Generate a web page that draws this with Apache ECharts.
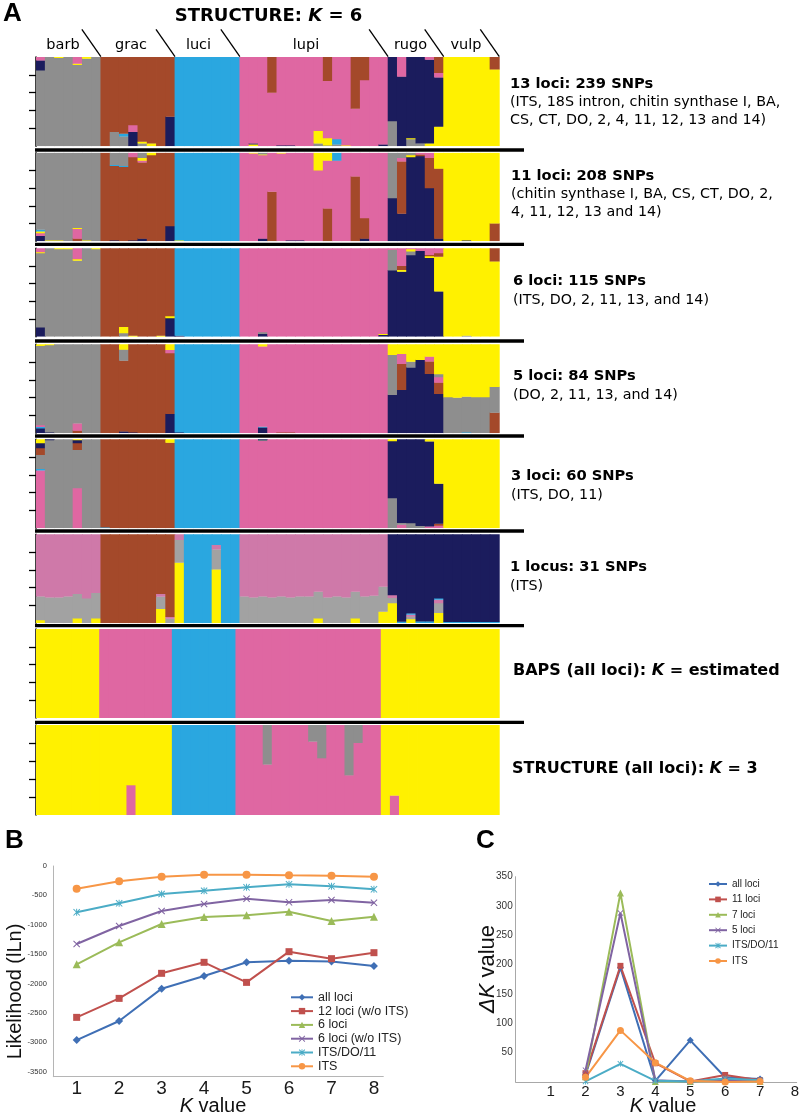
<!DOCTYPE html>
<html><head><meta charset="utf-8">
<script src="https://cdn.jsdelivr.net/npm/echarts@6/dist/echarts.min.js"></script>
<style>html,body{margin:0;padding:0;background:#fff}#c{width:800px;height:1117px}</style>
</head><body><div id="c"></div>
<script>
// ---------------- DATA ----------------
const groups = ['barb','grac','luci','lupi','rugo','vulp'];
const groupSizesK6 = [7,8,7,16,6,6];      // rows 1-6 (50 individuals)
const groupSizesAll = [7,8,7,16,6,7];     // rows 7-8 (51 individuals)

// cluster keys: G gray, R brown, B blue, P pink, N navy, Y yellow (stacking order bottom->top)
const order13 = ['G','B','Y','N','P','R'];
const row13 = [
[85,0,0,11,4,0],[100,0,0,0,0,0],[99,0,1,0,0,0],[100,0,0,0,0,0],[91,0,1.5,0,7.5,0],[98,0,2,0,0,0],[100,0,0,0,0,0],
[0,0,0,0,0,100],[16,0,0,0,0,84],[11,3,0,0,0,86],[0,0,0,16,7.5,76.5],[3,0,2,0,0,95],[0,0,3,0,0,97],[0,0,0,0,0,100],[0,0,0,33,0,67],
[0,100,0,0,0,0],[0,100,0,0,0,0],[0,100,0,0,0,0],[0,100,0,0,0,0],[0,100,0,0,0,0],[0,100,0,0,0,0],[0,100,0,0,0,0],
[0,0,0,0,100,0],[0,0,2,1,97,0],[0,0,0,0,100,0],[0,0,0,0,60,40],[0,0,0,1,99,0],[0,0,0,1,99,0],[0,0,0,0,100,0],[0,0,0,0,100,0],
[3,0,14,0,83,0],[1,0,8,0,64,27],[2,6,0,0,92,0],[0,0,1,0,99,0],[0,0,0,0,42,58],[0,0,0,0,74,26],[0,0,0,0,100,0],[0,0,0,2,98,0],
[28,0,0,72,0,0],[0,0,0,78,22,0],[8,0,1,91,0,0],[3,0,0,97,0,0],[0,0,3,94,3,0],[0,0,22,55,5,18],
[0,0,100,0,0,0],[0,0,100,0,0,0],[0,0,100,0,0,0],[0,0,100,0,0,0],[0,0,100,0,0,0],[0,0,86,0,0,14]
];
const order11 = ['N','R','P','Y','B','G'];
const row11 = [
[6,0,3,2,2,87],[0,0,0,1,0,99],[0,0,0,1,0,99],[0,0,0,0,0,100],[0,3,11,1,0,85],[0,0,0,1,0,99],[0,0,0,0,0,100],
[0,100,0,0,0,0],[1,84,0,0,1,14],[0,84,0,0,1,15],[1,94,5,0,0,0],[3,86,2,3,0,6],[0,97,0,3,0,0],[0,100,0,0,0,0],[17,83,0,0,0,0],
[0,0,0,1,99,0],[0,0,0,0,100,0],[0,0,0,0,100,0],[0,0,0,0,100,0],[0,0,0,0,100,0],[0,0,0,0,100,0],[0,0,0,0,100,0],
[0,0,100,0,0,0],[0,0,99,1,0,0],[3,0,94,1,0,2],[0,56,44,0,0,0],[0,0,99,1,0,0],[1,0,99,0,0,0],[1,0,99,0,0,0],[0,0,100,0,0,0],
[0,0,80,20,0,0],[0,37,54,9,0,0],[0,0,91,0,9,0],[0,0,100,0,0,0],[0,73,27,0,0,0],[3,23,74,0,0,0],[0,0,100,0,0,0],[0,0,100,0,0,0],
[48.5,0,0,0,0,51.5],[31,59,4,0,0,6],[95,0,0,2,0,3],[96,2,2,0,0,0],[60,34,6,0,0,0],[3,79,0,18,0,0],
[0,0,0,100,0,0],[0,0,0,100,0,0],[1,0,0,99,0,0],[0,0,0,100,0,0],[0,0,0,100,0,0],[0,20,0,80,0,0]
];
const order6 = ['N','G','Y','R','P','B'];
const row6 = [
[10.5,84,1,0,4.5,0],[0,100,0,0,0,0],[0,99,1,0,0,0],[0,99,1,0,0,0],[0,86,1.5,0,12.5,0],[0,100,0,0,0,0],[0,99,1,0,0,0],
[0,0,0,100,0,0],[0,0,0,100,0,0],[0,4,7,89,0,0],[0,0,1,99,0,0],[0,0,0,100,0,0],[0,0,0,100,0,0],[0,0,1,99,0,0],[21,0,2,77,0,0],
[1,0,0,0,0,99],[0,0,0,0,0,100],[0,0,0,0,0,100],[0,0,0,0,0,100],[0,0,0,0,0,100],[0,0,0,0,0,100],[0,0,0,0,0,100],
[0,0,0,0,100,0],[0,0,0,0,100,0],[3,2,0,0,95,0],[0,0,0,0,100,0],[0,0,0,0,100,0],[0,0,0,0,100,0],[0,0,0,0,100,0],[0,0,0,0,100,0],
[0,0,0,0,100,0],[0,0,0,0,100,0],[0,0,0,0,100,0],[0,0,0,0,100,0],[0,0,0,0,100,0],[0,0,0,0,100,0],[0,0,0,0,100,0],[2,0,1,0,97,0],
[75,23,0,0,2,0],[73.5,0,2,4.5,20,0],[92,4.5,2.5,0,1,0],[97,0,0,0,3,0],[89,0,2,1.5,7.5,0],[51,0,39.5,4,5.5,0],
[0,0,100,0,0,0],[0,0,100,0,0,0],[0,1,99,0,0,0],[0,0,100,0,0,0],[0,0,100,0,0,0],[0,0,85,15,0,0]
];
const order5 = ['N','R','B','P','G','Y'];
const row5 = [
[5.5,0,1.5,2,89,2],[1,0,0,0,98,1],[0,0,0,0,100,0],[0,0,0,0,100,0],[0,3,0,8,89,0],[0,0,0,0,100,0],[0,0,0,0,100,0],
[0,100,0,0,0,0],[0,100,0,0,0,0],[2,79.6,0,0,12.4,6],[1,99,0,0,0,0],[0,100,0,0,0,0],[0,100,0,0,0,0],[0,100,0,0,0,0],[21.7,68.2,0,3.7,0,6.4],
[1,0,99,0,0,0],[0,0,100,0,0,0],[0,0,100,0,0,0],[0,0,100,0,0,0],[0,0,100,0,0,0],[0,0,100,0,0,0],[0,0,100,0,0,0],
[0,0,0,100,0,0],[0,0,0,100,0,0],[6.4,0,1,90,0,2.6],[0,0,0,100,0,0],[0,1,0,99,0,0],[0,1,0,99,0,0],[0,0,0,100,0,0],[0,0,0,100,0,0],
[0,0,0,100,0,0],[0,0,0,100,0,0],[0,0,0,100,0,0],[0,0,0,100,0,0],[0,0,0,100,0,0],[0,0,0,100,0,0],[0,0,0,100,0,0],[0,0,0,100,0,0],
[43,0,0,0,45,12],[48.7,29.2,0,11.2,0,10.9],[74,0,0,0,6.4,19.6],[82.4,0,0,0,0,17.6],[66.7,13.9,0,5.5,0,13.9],[44.2,12.7,0,6,3.4,33.7],
[0,0,0,0,40.4,59.6],[0,0,0,0,40,60],[0,0,1,0,40,59],[0,0,0,0,40.4,59.6],[0,0,0,0,40.4,59.6],[0,23,0,0,29,48]
];
const order3 = ['P','B','G','R','N','Y'];
const row3 = [
[65,1.5,16,7.5,5.5,4.5],[0,0,99,0,1,0],[0,0,100,0,0,0],[0,0,100,0,0,0],[45,0,43,7.5,3.5,1],[0,0,100,0,0,0],[0,0,100,0,0,0],
[0,1,0,99,0,0],[0,0,0,100,0,0],[0,0,0,100,0,0],[0,0,0,100,0,0],[0,0,0,100,0,0],[0,0,0,100,0,0],[0,0,0,100,0,0],[0,0,0,96,0,4],
[0,100,0,0,0,0],[0,100,0,0,0,0],[0,100,0,0,0,0],[0,100,0,0,0,0],[0,100,0,0,0,0],[0,100,0,0,0,0],[0,100,0,0,0,0],
[100,0,0,0,0,0],[100,0,0,0,0,0],[98,0,1,0,1,0],[100,0,0,0,0,0],[100,0,0,0,0,0],[100,0,0,0,0,0],[100,0,0,0,0,0],[100,0,0,0,0,0],
[100,0,0,0,0,0],[100,0,0,0,0,0],[100,0,0,0,0,0],[100,0,0,0,0,0],[100,0,0,0,0,0],[100,0,0,0,0,0],[100,0,0,0,0,0],[100,0,0,0,0,0],
[0,0,33.7,0,64,2.3],[4,0,2,0,94,0],[0,0,5.6,0,94.4,0],[0,0,2.6,0,97.4,0],[2,0,0,0,95.4,2.6],[3,0,0,2,45,50],
[0,0,0,0,0,100],[0,0,0,0,0,100],[0,0,0,0,0,100],[0,0,0,0,0,100],[0,0,0,0,0,100],[0,0,0,0,0,100]
];
const order1 = ['Y','G','P','B','N','R'];
const row1 = [
[3.5,26.5,70,0,0,0],[0,29,71,0,0,0],[0,29,71,0,0,0],[0,30,70,0,0,0],[5.5,27.5,67,0,0,0],[0,28,72,0,0,0],[5.5,28.5,66,0,0,0],
[0,0,0,0,0,100],[0,0,0,0,0,100],[0,0,0,0,0,100],[0,0,0,0,0,100],[0,0,0,0,0,100],[0,0,0,0,0,100],[16,13.8,3,0,0,67.2],[0,5,2,0,0,93],
[68,25.5,6.5,0,0,0],[0,0,0,100,0,0],[0,0,0,100,0,0],[0,0,0,100,0,0],[60.5,22.5,5,12,0,0],[0,0,0,100,0,0],[0,0,0,100,0,0],
[0,30,70,0,0,0],[0,29,71,0,0,0],[0,30,70,0,0,0],[0,29,71,0,0,0],[0,30,70,0,0,0],[0,29,71,0,0,0],[0,30,70,0,0,0],[0,30,70,0,0,0],
[5.5,30,64.5,0,0,0],[0,29,71,0,0,0],[0,30,70,0,0,0],[0,29,71,0,0,0],[5.5,30,64.5,0,0,0],[0,30,70,0,0,0],[0,31,69,0,0,0],[13,28,59,0,0,0],
[22.5,6,3,0,68.5,0],[0,0,0,1.7,98.3,0],[4.5,3,2,1.5,89,0],[0,0,0,2,98,0],[0,0,0,2,98,0],[11.5,11,4,1.5,72,0],
[0,0,0,1.5,98.5,0],[0,0,0,1.5,98.5,0],[0,0,0,1.5,98.5,0],[0,0,0,1.5,98.5,0],[0,0,0,1.5,98.5,0],[0,0,0,1.5,98.5,0]
];
const orderBaps = ['Y','P','B'];
const rowBaps = [
[100,0,0],[100,0,0],[100,0,0],[100,0,0],[100,0,0],[100,0,0],[100,0,0],
[0,100,0],[0,100,0],[0,100,0],[0,100,0],[0,100,0],[0,100,0],[0,100,0],[0,100,0],
[0,0,100],[0,0,100],[0,0,100],[0,0,100],[0,0,100],[0,0,100],[0,0,100],
[0,100,0],[0,100,0],[0,100,0],[0,100,0],[0,100,0],[0,100,0],[0,100,0],[0,100,0],
[0,100,0],[0,100,0],[0,100,0],[0,100,0],[0,100,0],[0,100,0],[0,100,0],[0,100,0],
[100,0,0],[100,0,0],[100,0,0],[100,0,0],[100,0,0],[100,0,0],
[100,0,0],[100,0,0],[100,0,0],[100,0,0],[100,0,0],[100,0,0],[100,0,0]
];
const orderK3 = ['P','B','Y','G'];
const rowK3 = [
[0,0,100,0],[0,0,100,0],[0,0,100,0],[0,0,100,0],[0,0,100,0],[0,0,100,0],[0,0,100,0],
[0,0,100,0],[0,0,100,0],[0,0,100,0],[33,0,67,0],[0,0,100,0],[0,0,100,0],[0,0,100,0],[0,0,100,0],
[0,100,0,0],[0,100,0,0],[0,100,0,0],[0,100,0,0],[0,100,0,0],[0,100,0,0],[0,100,0,0],
[100,0,0,0],[100,0,0,0],[100,0,0,0],[56,0,0,44],[100,0,0,0],[100,0,0,0],[100,0,0,0],[100,0,0,0],
[81.5,0,0,18.5],[63,0,0,37],[100,0,0,0],[100,0,0,0],[44,0,0,56],[80,0,0,20],[100,0,0,0],[100,0,0,0],
[0,0,100,0],[21.5,0,78.5,0],[0,0,100,0],[0,0,100,0],[0,0,100,0],[0,0,100,0],
[0,0,100,0],[0,0,100,0],[0,0,100,0],[0,0,100,0],[0,0,100,0],[0,0,100,0],[0,0,100,0]
];
const rowTitles = [
  ['13 loci: 239 SNPs','(ITS, 18S intron, chitin synthase I, BA,','CS, CT, DO, 2, 4, 11, 12, 13 and 14)'],
  ['11 loci: 208 SNPs','(chitin synthase I, BA, CS, CT, DO, 2,','4, 11, 12, 13 and 14)'],
  ['6 loci: 115 SNPs','(ITS, DO, 2, 11, 13, and 14)'],
  ['5 loci: 84 SNPs','(DO, 2, 11, 13, and 14)'],
  ['3 loci: 60 SNPs','(ITS, DO, 11)'],
  ['1 locus: 31 SNPs','(ITS)']
];

// Panel B
const kValues = [1,2,3,4,5,6,7,8];
const likeTicks = [0,-500,-1000,-1500,-2000,-2500,-3000,-3500];
const likeAllLoci = [-2960,-2636,-2086,-1871,-1638,-1610,-1622,-1701];
const like12Loci = [-2574,-2251,-1825,-1638,-1979,-1457,-1576,-1474];
const like6Loci = [-1672,-1298,-986,-867,-839,-777,-935,-862];
const like6LociNoITS = [-1327,-1020,-765,-646,-556,-618,-578,-624];
const likeITSDO11 = [-788,-635,-476,-420,-363,-312,-346,-397];
const likeITS = [-385,-261,-181,-147,-147,-159,-164,-181];
// Panel C
const dkK = [2,3,4,5,6,7];
const dkTicks = [50,100,150,200,250,300,350];
const dkAllLoci = [12,195,2,71,8,5];
const dk11Loci = [15,198,32,1,12,3];
const dk7Loci = [9,322,1,1,2,1];
const dk5Loci = [20,288,3,1,4,2];
const dkITSDO11 = [1,31,2,1,6,3];
const dkITS = [8,88,33,2,0,1];

// ---------------- STYLE / LAYOUT ----------------
const PAL = {G:'#8e8e8e', R:'#a4492a', B:'#2aa7e0', P:'#df67a2', N:'#1b1c5d', Y:'#fff100'};
const PAL_ITS = {G:'#a2a2a2', R:'#a4492a', B:'#2aa7e0', P:'#cf79a9', N:'#1b1c5d', Y:'#fff100'};
const rows = [
  {order:order13, data:row13, pal:PAL, top:57, bottom:146.3},
  {order:order11, data:row11, pal:PAL, top:152.7, bottom:241.3},
  {order:order6, data:row6, pal:PAL, top:248.3, bottom:336.7},
  {order:order5, data:row5, pal:PAL, top:344.3, bottom:433.3},
  {order:order3, data:row3, pal:PAL, top:439.3, bottom:528.3},
  {order:order1, data:row1, pal:PAL_ITS, top:534.3, bottom:623.3},
  {order:orderBaps, data:rowBaps, pal:PAL, top:629, bottom:718},
  {order:orderK3, data:rowK3, pal:PAL, top:725, bottom:815}
];
const PL = 36, PW = 463.3;
const SEP_Y = [150, 244.3, 341, 436, 531, 625.7, 722.3];
const DJ = 'DejaVu Sans', LS = 'Liberation Sans';

const C_ALL='#3f6fb5', C_RED='#c0504d', C_GRN='#9bbb59', C_PUR='#8064a2', C_TEAL='#4bacc6', C_ORG='#f79646';
const SYM_X = 'path://M1,0L5,4L9,0L10,1L6,5L10,9L9,10L5,6L1,10L0,9L4,5L0,1Z';
const SYM_AST = 'path://M1,0L5,4L9,0L10,1L6,5L10,9L9,10L5,6L1,10L0,9L4,5L0,1Z M4.3,0L5.7,0L5.7,10L4.3,10Z';

// ---------------- BUILD ----------------
const grid=[], xAxis=[], yAxis=[], series=[], graphic=[];
function stackRenderer(r) {
  return function (params, api) {
    const i = api.value(0);
    const bw = api.size([1, 0])[0];
    const children = [];
    let cum = 0;
    for (let k = 0; k < r.order.length; k++) {
      const v = api.value(k + 1);
      if (!v) continue;
      const p0 = api.coord([i, cum]);
      const p1 = api.coord([i, cum + v]);
      cum += v;
      children.push({type:'rect',
        shape:{x:p0[0] - bw/2 - 0.4, y:p1[1] - 0.3, width:bw + 0.8, height:p0[1] - p1[1] + 0.3},
        style:{fill:r.pal[r.order[k]]}});
    }
    return {type:'group', children};
  };
}
rows.forEach((r, ri) => {
  grid.push({left:PL, top:r.top, width:PW, height:r.bottom-r.top, outerBoundsMode:'none'});
  xAxis.push({type:'category', gridIndex:ri, data:r.data.map((d,i)=>i), show:false, boundaryGap:true});
  yAxis.push({type:'value', gridIndex:ri, min:0, max:100, interval:20,
    axisLabel:{show:false}, splitLine:{show:false},
    axisLine:{show:true, lineStyle:{color:'#000', width:1.5}},
    axisTick:{show:true, inside:false, length:7, lineStyle:{color:'#000', width:1.3}, customValues:[20,40,60,80]}});
  series.push({type:'custom', name:'row'+ri, xAxisIndex:ri, yAxisIndex:ri, silent:true, clip:true,
    renderItem:stackRenderer(r), data:r.data.map((d,i)=>[i].concat(d)), z:1});
});

// Panel B
grid.push({left:53.3, top:866, width:330, height:210.7, outerBoundsMode:'none'});
xAxis.push({type:'value', gridIndex:8, min:0.45, max:8.22,
  axisLine:{show:true, onZero:false, lineStyle:{color:'#b5b5b5', width:1}}, axisTick:{show:false}, splitLine:{show:false},
  axisLabel:{customValues:kValues, fontSize:19, color:'#1a1a1a', margin:3, fontFamily:LS}});
yAxis.push({type:'value', gridIndex:8, min:-3583, max:0,
  axisLine:{show:true, onZero:false, lineStyle:{color:'#b5b5b5', width:1}}, axisTick:{show:false}, splitLine:{show:false},
  axisLabel:{customValues:likeTicks, fontSize:7.5, color:'#333', margin:6.5, fontFamily:LS, formatter:v => String(v)}});
// Panel C
grid.push({left:515.7, top:876.7, width:281, height:205.3, outerBoundsMode:'none'});
xAxis.push({type:'value', gridIndex:9, min:0, max:8.05,
  axisLine:{show:true, onZero:false, lineStyle:{color:'#a8a8a8', width:1}}, axisTick:{show:false}, splitLine:{show:false},
  axisLabel:{customValues:kValues, fontSize:15, color:'#1a1a1a', margin:2, fontFamily:LS}});
yAxis.push({type:'value', gridIndex:9, min:0, max:350,
  axisLine:{show:true, onZero:false, lineStyle:{color:'#a8a8a8', width:1}}, axisTick:{show:false}, splitLine:{show:false},
  axisLabel:{customValues:dkTicks, fontSize:10, color:'#333', margin:3, fontFamily:LS, formatter:v => String(v)}});

function lineSeries(name, gi, xs, ys, color, symbol, size) {
  return {type:'line', name, xAxisIndex:gi, yAxisIndex:gi, data:xs.map((x,i)=>[x, ys[i]]),
    symbol, symbolSize:size, showSymbol:true, lineStyle:{color, width:2}, itemStyle:{color},
    emphasis:{disabled:true}};
}
series.push(
  lineSeries('all loci', 8, kValues, likeAllLoci, C_ALL, 'diamond', 8),
  lineSeries('12 loci (w/o ITS)', 8, kValues, like12Loci, C_RED, 'rect', 7),
  lineSeries('6 loci', 8, kValues, like6Loci, C_GRN, 'triangle', 8),
  lineSeries('6 loci (w/o ITS)', 8, kValues, like6LociNoITS, C_PUR, SYM_X, 7),
  lineSeries('ITS/DO/11', 8, kValues, likeITSDO11, C_TEAL, SYM_AST, 7),
  lineSeries('ITS', 8, kValues, likeITS, C_ORG, 'circle', 8),
  lineSeries('all loci', 9, dkK, dkAllLoci, C_ALL, 'diamond', 7),
  lineSeries('11 loci', 9, dkK, dk11Loci, C_RED, 'rect', 6),
  lineSeries('7 loci', 9, dkK, dk7Loci, C_GRN, 'triangle', 7),
  lineSeries('5 loci', 9, dkK, dk5Loci, C_PUR, SYM_X, 6),
  lineSeries('ITS/DO/11', 9, dkK, dkITSDO11, C_TEAL, SYM_AST, 6),
  lineSeries('ITS', 9, dkK, dkITS, C_ORG, 'circle', 7)
);

// ---------------- TEXT / DECORATION ----------------
function T(x, baseline, text, fs, weight, family, align, color) {
  return {type:'text', x:x, y:baseline - 0.346*fs, silent:true,
    style:{text, fill:color||'#000', font:(weight||'normal')+' '+fs+'px "'+(family||DJ)+'"',
      align:align||'left', verticalAlign:'middle', textAlign:align||'left', textVerticalAlign:'middle'}};
}
function R(x, baseline, text, rich, fs, align, rot) {
  return {type:'text', x:x, y:baseline - 0.346*fs, rotation:rot||0, silent:true,
    style:{text, rich, fill:'#000', align:align||'left', verticalAlign:'middle', textAlign:align||'left', textVerticalAlign:'middle'}};
}
function L(x1,y1,x2,y2,w){ return {type:'line', silent:true, shape:{x1,y1,x2,y2}, style:{stroke:'#000', lineWidth:w}}; }

graphic.push(T(3, 23, 'A', 26, 'bold', LS));
graphic.push(T(5, 850, 'B', 26, 'bold', LS));
graphic.push(T(476, 850, 'C', 26, 'bold', LS));
graphic.push(R(268.5, 23, '{b|STRUCTURE: }{bi|K}{b| = 6}',
  {b:{fontSize:18, fontWeight:'bold', fontFamily:DJ, fill:'#000'}, bi:{fontSize:18, fontWeight:'bold', fontStyle:'italic', fontFamily:DJ, fill:'#000'}}, 18, 'center'));
const GROUP_LABEL_X = [63,131,198.5,306,410.5,466];
groups.forEach((g,i)=>graphic.push(T(GROUP_LABEL_X[i], 50, g, 14.5, 'normal', DJ, 'center')));
let cum = 0;
groupSizesK6.forEach(n => { cum += n; const bx = PL + cum*PW/50; graphic.push(L(bx-19, 29.3, bx, 56.7, 1.3)); });
SEP_Y.forEach(y => graphic.push(L(35, y, 524, y, 3.3)));

const TITLE_POS = [
  {x:510, b:[89,107.3,125.3]}, {x:511, b:[181,199.3,217.7]}, {x:513, b:[286,305]},
  {x:513, b:[381.7,400.7]}, {x:511, b:[481.7,500]}, {x:510, b:[572.7,591]}
];
rowTitles.forEach((lines, i) => {
  lines.forEach((s, j) => {
    graphic.push(j === 0 ? T(TITLE_POS[i].x, TITLE_POS[i].b[0], s, 14.7, 'bold', DJ)
                         : T(TITLE_POS[i].x, TITLE_POS[i].b[j], s, 14.3, 'normal', DJ));
  });
});
const rb = {b:{fontSize:16, fontWeight:'bold', fontFamily:DJ, fill:'#000'}, bi:{fontSize:16, fontWeight:'bold', fontStyle:'italic', fontFamily:DJ, fill:'#000'}};
graphic.push(R(513, 676, '{b|BAPS (all loci): }{bi|K}{b| = estimated}', rb, 16));
graphic.push(R(512, 774.3, '{b|STRUCTURE (all loci): }{bi|K}{b| = 3}', rb, 16));

// axis titles B/C
const ri20 = {n:{fontSize:20, fontFamily:LS, fill:'#111'}, i:{fontSize:20, fontFamily:LS, fontStyle:'italic', fill:'#111'}};
graphic.push({type:'text', x:15.5, y:991.5, rotation:Math.PI/2, silent:true,
  style:{text:'Likelihood (lLn)', font:'20px "Liberation Sans"', fill:'#111', align:'center', verticalAlign:'middle', textAlign:'center', textVerticalAlign:'middle'}});
graphic.push({type:'text', x:213, y:1106, silent:true,
  style:{text:'{i|K}{n| value}', rich:ri20, align:'center', verticalAlign:'middle', textAlign:'center', textVerticalAlign:'middle'}});
graphic.push({type:'text', x:663, y:1106, silent:true,
  style:{text:'{i|K}{n| value}', rich:ri20, align:'center', verticalAlign:'middle', textAlign:'center', textVerticalAlign:'middle'}});
graphic.push({type:'text', x:487.5, y:969, rotation:Math.PI/2, silent:true,
  style:{text:'{i|ΔK}{n| value}', rich:{n:{fontSize:22, fontFamily:LS, fill:'#111'}, i:{fontSize:22, fontFamily:LS, fontStyle:'italic', fill:'#111'}},
    align:'center', verticalAlign:'middle', textAlign:'center', textVerticalAlign:'middle'}});

const option = {
  animation:false,
  textStyle:{fontFamily:LS},
  grid, xAxis, yAxis, series, graphic,
  legend:[
    {data:['all loci','12 loci (w/o ITS)','6 loci','6 loci (w/o ITS)','ITS/DO/11','ITS'],
     orient:'vertical', left:290, top:990.4, itemWidth:22, itemHeight:8, itemGap:0, padding:0, selectedMode:false,
     textStyle:{fontFamily:LS, fontSize:12.5, color:'#222', lineHeight:13.8}},
    {data:['all loci','11 loci','7 loci','5 loci','ITS/DO/11','ITS'],
     orient:'vertical', left:708, top:876.3, itemWidth:18, itemHeight:7, itemGap:0, padding:0, selectedMode:false,
     textStyle:{fontFamily:LS, fontSize:10, color:'#222', lineHeight:15.4}}
  ]
};
const chart = echarts.init(document.getElementById('c'), null, {renderer:'canvas'});
chart.setOption(option);
</script></body></html>
